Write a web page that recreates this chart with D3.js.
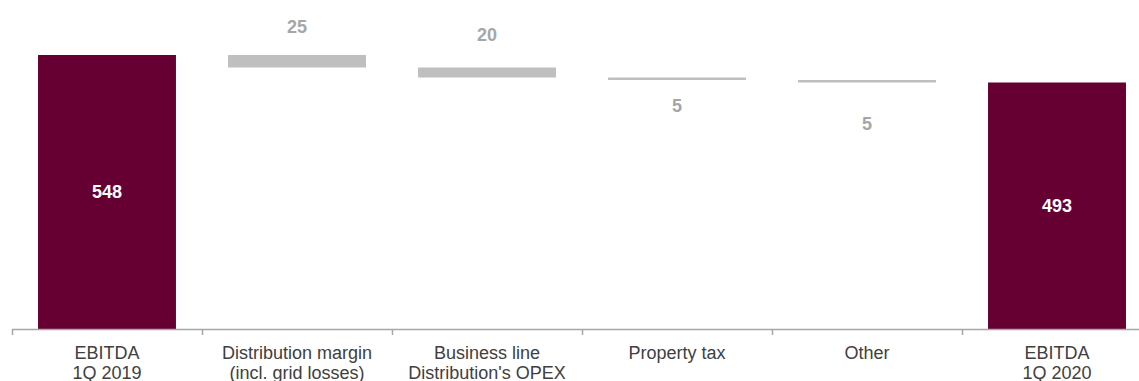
<!DOCTYPE html>
<html>
<head>
<meta charset="utf-8">
<script src="https://cdn.jsdelivr.net/npm/d3@7"></script>
<style>
  html, body { margin: 0; padding: 0; background: #fff; }
  svg { display: block; font-family: "Liberation Sans", Arial, sans-serif; }
</style>
</head>
<body>
<svg id="chart" width="1139" height="381"></svg>
<script>
// EBITDA bridge, MSEK
const categories = [
  "EBITDA\n1Q 2019",
  "Distribution margin\n(incl. grid losses)",
  "Business line\nDistribution's OPEX",
  "Property tax",
  "Other",
  "EBITDA\n1Q 2020"
];
// signed change for the bridge steps, totals for the end columns
const values = [548, -25, -20, -5, -5, 493];
const isTotal = [true, false, false, false, false, true];
const valueLabels = ["548", "25", "20", "5", "5", "493"];

// layout / style
const labelShift = [0, -28, -33, 26, 41, 0];   // gray labels: offset of text centre from bar edge
const colors = { total: "#660033", step: "#bfbfbf", stepText: "#a6a6a6", axis: "#a6a6a6", cat: "#404040" };

const svg = d3.select("#chart");
const baseY = 329;

const x = d3.scaleBand()
  .domain(categories)
  .range([12, 1152])
  .paddingInner(0.274)
  .paddingOuter(0.137);

const y = d3.scaleLinear().domain([0, 658]).range([baseY, 0]);

// running totals for the bridge
let running = 0;
const bars = categories.map((c, i) => {
  let lo, hi;
  if (isTotal[i]) { lo = 0; hi = values[i]; running = values[i]; }
  else { const start = running; running += values[i]; lo = Math.min(start, running); hi = Math.max(start, running); }
  return { cat: c, lo, hi, total: isTotal[i], label: valueLabels[i], shift: labelShift[i], neg: values[i] < 0 };
});

svg.append("g").selectAll("rect")
  .data(bars)
  .join("rect")
  .attr("x", d => x(d.cat))
  .attr("width", x.bandwidth())
  .attr("y", d => y(d.hi))
  .attr("height", d => y(d.lo) - y(d.hi))
  .attr("fill", d => d.total ? colors.total : colors.step);

// value labels
svg.append("g").selectAll("text")
  .data(bars)
  .join("text")
  .attr("x", d => x(d.cat) + x.bandwidth() / 2)
  .attr("y", d => {
    if (d.total) return (y(d.hi) + y(d.lo)) / 2;
    return d.shift < 0 ? y(d.hi) + d.shift : y(d.lo) + d.shift;
  })
  .attr("dy", "0.36em")
  .attr("text-anchor", "middle")
  .attr("font-weight", "bold")
  .attr("font-size", 18)
  .attr("fill", d => d.total ? "#ffffff" : colors.stepText)
  .text(d => d.label);

// category axis
const step = x.step();
const axisG = svg.append("g");
axisG.append("line")
  .attr("x1", x.range()[0]).attr("x2", 1139)
  .attr("y1", baseY + 0.5).attr("y2", baseY + 0.5)
  .attr("stroke", colors.axis).attr("stroke-width", 1.5);

const edges = d3.range(categories.length + 1).map(i => x.range()[0] + i * step);
axisG.selectAll("line.tick")
  .data(edges)
  .join("line")
  .attr("class", "tick")
  .attr("x1", d => Math.round(d) + 0.5).attr("x2", d => Math.round(d) + 0.5)
  .attr("y1", baseY).attr("y2", baseY + 6)
  .attr("stroke", colors.axis).attr("stroke-width", 1.5);

const catText = axisG.selectAll("text")
  .data(categories)
  .join("text")
  .attr("x", d => x(d) + x.bandwidth() / 2)
  .attr("y", 359)
  .attr("text-anchor", "middle")
  .attr("font-size", 18)
  .attr("fill", colors.cat);

catText.selectAll("tspan")
  .data(d => d.split("\n").map(s => ({ s, parent: d })))
  .join("tspan")
  .attr("x", d => x(d.parent) + x.bandwidth() / 2)
  .attr("dy", (d, i) => i === 0 ? 0 : 20)
  .text(d => d.s);
</script>
</body>
</html>
